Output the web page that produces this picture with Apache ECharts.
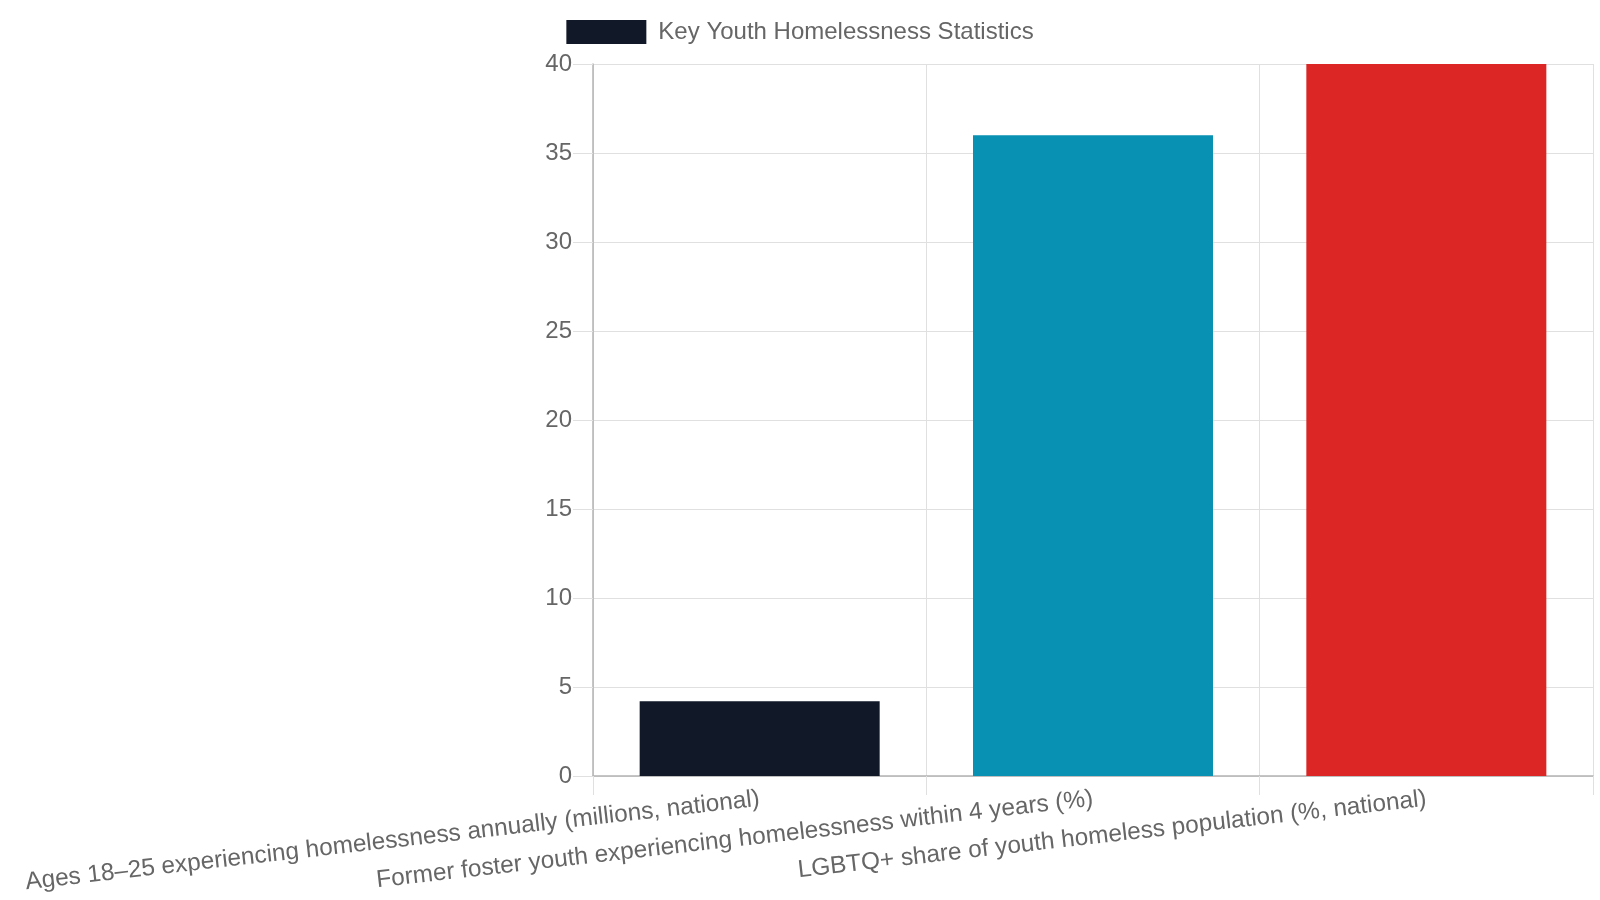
<!DOCTYPE html>
<html>
<head>
<meta charset="utf-8">
<script src="https://cdn.jsdelivr.net/npm/echarts@6/dist/echarts.min.js"></script>
<style>
  html, body { margin: 0; padding: 0; background: #ffffff; }
  #chart { width: 1600px; height: 900px; }
</style>
</head>
<body>
<div id="chart"></div>
<script>
// 数据
const categories = [
  "Ages 18–25 experiencing homelessness annually (millions, national)",
  "Former foster youth experiencing homelessness within 4 years (%)",
  "LGBTQ+ share of youth homeless population (%, national)"
];
const values = [4.2, 36, 40];
const barColors = ["#111827", "#0891b2", "#dc2626"];
const seriesName = "Key Youth Homelessness Statistics";

const chart = echarts.init(document.getElementById("chart"));

const option = {
  animation: false,
  textStyle: { fontFamily: "Liberation Sans, Arial, sans-serif" },
  legend: {
    data: [seriesName],
    top: 20,
    left: "center",
    padding: 0,
    itemWidth: 80,
    itemHeight: 24,
    itemGap: 12,
    icon: "rect",
    itemStyle: { color: barColors[0] },
    textStyle: { color: "#666", fontSize: 24, padding: [0, 0, 0, 7] }
  },
  grid: { left: 593, right: 7, top: 64, bottom: 124 },
  xAxis: {
    type: "category",
    data: categories,
    boundaryGap: true,
    axisLine: { lineStyle: { color: "#b3b3b3", width: 1.5 } },
    axisTick: { show: true, length: 19, lineStyle: { color: "#e0e0e0" } },
    splitLine: { show: true, lineStyle: { color: "#e0e0e0" } },
    axisLabel: { interval: 0, rotate: 6.5, fontSize: 24.4, color: "#666", margin: 23 }
  },
  yAxis: {
    type: "value",
    min: 0,
    max: 40,
    interval: 5,
    axisLine: { show: true, lineStyle: { color: "#b3b3b3", width: 1.5 } },
    axisTick: { show: true, length: 20, lineStyle: { color: "#e0e0e0" } },
    splitLine: { show: true, lineStyle: { color: "#e0e0e0" } },
    axisLabel: { fontSize: 24, color: "#666", margin: 21 }
  },
  series: [
    {
      name: seriesName,
      type: "bar",
      barWidth: "72%",
      data: values.map((v, i) => ({ value: v, itemStyle: { color: barColors[i] } }))
    }
  ]
};

chart.setOption(option);
</script>
</body>
</html>
